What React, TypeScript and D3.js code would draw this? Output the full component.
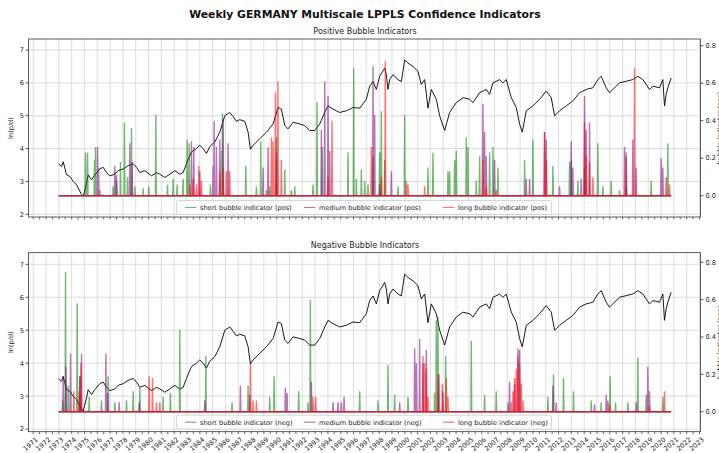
import React from 'react';
import * as d3 from 'd3';

const FONT = 'DejaVu Sans, Verdana, sans-serif';

// tick values
const yearTicks = [
  1971, 1972, 1973, 1974, 1975, 1976, 1977, 1978, 1979, 1980, 1981, 1982, 1983,
  1984, 1985, 1986, 1987, 1988, 1989, 1990, 1991, 1992, 1993, 1994, 1995, 1996,
  1997, 1998, 1999, 2000, 2001, 2002, 2003, 2004, 2005, 2006, 2007, 2008, 2009,
  2010, 2011, 2012, 2013, 2014, 2015, 2016, 2017, 2018, 2019, 2020, 2021, 2022, 2023,
];
const leftTicks = [2, 3, 4, 5, 6, 7];
const rightTicks = [0, 0.2, 0.4, 0.6, 0.8];

// ln(p/d)
const price: [number, number][] = [
  [1972.98, 3.54], [1973.21, 3.45], [1973.34, 3.6], [1973.6, 3.2], [1973.86, 3.15],
  [1974.12, 3.0], [1974.38, 2.9], [1974.77, 2.6], [1974.9, 2.55], [1975.16, 2.95],
  [1975.29, 3.2], [1975.55, 3.05], [1975.81, 3.2], [1976.2, 3.38], [1976.46, 3.43],
  [1976.72, 3.27], [1976.98, 3.17], [1977.37, 3.22], [1977.63, 3.33], [1978.02, 3.38],
  [1978.41, 3.48], [1978.8, 3.54], [1979.06, 3.43], [1979.32, 3.27], [1979.71, 3.33],
  [1980.23, 3.17], [1980.62, 3.27], [1980.88, 3.22], [1981.27, 3.12], [1981.66, 3.22],
  [1982.05, 3.33], [1982.44, 3.22], [1982.7, 3.27], [1982.96, 3.54], [1983.35, 3.9],
  [1983.74, 4.0], [1984.0, 4.1], [1984.26, 4.0], [1984.52, 3.85], [1984.78, 4.06],
  [1985.17, 4.2], [1985.56, 4.5], [1985.95, 5.0], [1986.34, 5.1], [1986.6, 4.97],
  [1986.86, 4.83], [1987.12, 4.88], [1987.51, 4.83], [1987.77, 4.5], [1987.95, 3.98],
  [1988.16, 4.1], [1988.68, 4.3], [1989.2, 4.5], [1989.72, 4.75], [1990.11, 5.25],
  [1990.37, 5.2], [1990.63, 4.7], [1990.89, 4.6], [1991.28, 4.8], [1991.8, 4.75],
  [1992.19, 4.7], [1992.58, 4.55], [1992.97, 4.55], [1993.36, 4.75], [1993.75, 5.1],
  [1994.01, 5.3], [1994.4, 5.2], [1994.92, 5.1], [1995.44, 5.15], [1995.96, 5.25],
  [1996.48, 5.23], [1997.0, 5.5], [1997.26, 5.9], [1997.52, 6.04], [1997.78, 5.8],
  [1998.04, 6.2], [1998.43, 6.45], [1998.56, 6.25], [1998.69, 5.8], [1998.82, 6.1],
  [1999.08, 6.25], [1999.47, 6.1], [1999.73, 6.04], [1999.99, 6.7], [2000.25, 6.6],
  [2000.64, 6.5], [2001.03, 6.35], [2001.29, 5.95], [2001.55, 6.1], [2001.81, 5.23],
  [2002.07, 5.8], [2002.46, 5.5], [2002.72, 5.0], [2003.11, 4.55], [2003.5, 5.1],
  [2004.02, 5.4], [2004.54, 5.55], [2005.06, 5.5], [2005.32, 5.4], [2005.84, 5.7],
  [2006.36, 5.8], [2006.62, 5.65], [2006.88, 6.0], [2007.4, 6.1], [2007.66, 6.0],
  [2007.92, 6.1], [2008.31, 5.55], [2008.7, 5.25], [2008.96, 4.75], [2009.17, 4.5],
  [2009.48, 5.15], [2010.0, 5.3], [2010.52, 5.5], [2011.04, 5.75], [2011.43, 5.55],
  [2011.69, 5.0], [2012.08, 5.15], [2012.6, 5.3], [2013.12, 5.45], [2013.64, 5.7],
  [2014.16, 5.8], [2014.68, 5.85], [2015.07, 6.1], [2015.33, 6.2], [2015.72, 5.85],
  [2015.98, 5.7], [2016.24, 5.8], [2016.76, 6.0], [2017.28, 6.05], [2017.8, 6.1],
  [2018.19, 6.2], [2018.58, 6.1], [2019.1, 5.8], [2019.36, 5.9], [2019.88, 5.85],
  [2020.14, 6.1], [2020.27, 5.3], [2020.4, 5.65], [2020.53, 5.85], [2020.79, 6.15],
];

// positive bubble indicators [year, value]
const shortPos: [number, number][] = [
  [1975.08, 0.23], [1975.24, 0.23], [1975.78, 0.19], [1975.86, 0.26], [1977.24, 0.05],
  [1977.5, 0.08], [1977.81, 0.18], [1978.12, 0.39], [1978.36, 0.1], [1978.67, 0.36],
  [1978.93, 0.05], [1979.58, 0.04], [1980.02, 0.05], [1980.57, 0.43], [1981.48, 0.06],
  [1981.92, 0.09], [1982.23, 0.06], [1982.7, 0.09], [1983.01, 0.3], [1983.17, 0.28],
  [1984.83, 0.06], [1985.69, 0.24], [1985.77, 0.44], [1987.59, 0.16], [1988.42, 0.05],
  [1988.76, 0.29], [1989.2, 0.03], [1989.46, 0.05], [1989.98, 0.31], [1990.63, 0.14],
  [1991.15, 0.03], [1991.41, 0.05], [1992.84, 0.06], [1993.15, 0.5], [1993.57, 0.26],
  [1995.57, 0.23], [1996.01, 0.68], [1996.22, 0.09], [1996.61, 0.14], [1996.87, 0.08],
  [1997.13, 0.06], [1997.52, 0.21], [1998.04, 0.23], [1998.17, 0.45], [1998.43, 0.19],
  [1999.47, 0.05], [1999.99, 0.43], [2001.81, 0.15], [2002.2, 0.23], [2003.37, 0.13],
  [2003.5, 0.13], [2003.89, 0.19], [2004.02, 0.24], [2004.8, 0.31], [2004.93, 0.26],
  [2005.58, 0.08], [2005.84, 0.21], [2006.62, 0.23], [2006.88, 0.26], [2007.27, 0.15],
  [2009.35, 0.19], [2010.0, 0.3], [2011.56, 0.16], [2012.86, 0.18], [2012.99, 0.19],
  [2013.51, 0.08], [2014.03, 0.15], [2015.07, 0.28], [2015.46, 0.05], [2016.11, 0.08],
  [2016.76, 0.03], [2017.28, 0.05], [2019.23, 0.08], [2020.53, 0.28],
];
const mediumPos: [number, number][] = [
  [1976.02, 0.26], [1976.1, 0.15], [1977.37, 0.16], [1977.5, 0.11], [1978.54, 0.28],
  [1978.72, 0.18], [1983.35, 0.29], [1983.53, 0.26], [1984.0, 0.13], [1985.04, 0.16],
  [1985.12, 0.4], [1985.3, 0.26], [1985.56, 0.3], [1985.82, 0.41], [1986.21, 0.28],
  [1988.94, 0.15], [1989.33, 0.26], [1989.98, 0.23], [1993.49, 0.35], [1993.75, 0.61],
  [1994.01, 0.53], [1994.14, 0.24], [1997.52, 0.69], [1997.65, 0.43], [1998.04, 0.06],
  [1998.95, 0.13], [2006.1, 0.49], [2006.23, 0.34], [2006.36, 0.21], [2007.01, 0.19],
  [2009.48, 0.09], [2009.74, 0.09], [2010.91, 0.34], [2011.04, 0.3], [2012.08, 0.05],
  [2012.99, 0.29], [2013.12, 0.15], [2013.77, 0.09], [2014.03, 0.53], [2014.16, 0.35],
  [2014.42, 0.39], [2017.15, 0.26], [2017.28, 0.23], [2017.8, 0.3], [2018.06, 0.15],
  [2020.01, 0.2], [2020.14, 0.15],
];
const longPos: [number, number][] = [
  [1976.2, 0.03], [1983.22, 0.06], [1983.48, 0.09], [1983.74, 0.06], [1983.92, 0.16],
  [1984.13, 0.08], [1985.56, 0.13], [1985.82, 0.15], [1986.08, 0.13], [1986.34, 0.13],
  [1989.59, 0.31], [1989.72, 0.29], [1989.9, 0.55], [1990.1, 0.61], [1990.37, 0.19],
  [1994.01, 0.1], [1994.32, 0.4], [1997.39, 0.26], [1998.17, 0.1], [1998.48, 0.72],
  [2000.12, 0.08], [2000.25, 0.06], [2001.55, 0.05], [2006.1, 0.19], [2006.36, 0.05],
  [2007.14, 0.03], [2010.91, 0.34], [2011.04, 0.19], [2014.03, 0.39], [2014.16, 0.21],
  [2014.42, 0.18], [2014.68, 0.1], [2017.28, 0.21], [2017.93, 0.68], [2020.4, 0.1],
  [2020.66, 0.06],
];

// negative bubble indicators [year, value]
const shortNeg: [number, number][] = [
  [1973.29, 0.06], [1973.52, 0.75], [1973.73, 0.14], [1974.43, 0.58], [1974.64, 0.19],
  [1975.37, 0.08], [1976.33, 0.06], [1976.85, 0.19], [1977.37, 0.05], [1978.28, 0.06],
  [1978.8, 0.11], [1979.32, 0.13], [1981.14, 0.08], [1981.71, 0.1], [1982.44, 0.44],
  [1984.47, 0.3], [1986.52, 0.05], [1987.77, 0.14], [1989.46, 0.08], [1989.8, 0.19],
  [1991.72, 0.11], [1992.45, 0.05], [1992.63, 0.6], [1996.48, 0.11], [1997.91, 0.06],
  [1998.69, 0.25], [1999.21, 0.09], [2000.25, 0.08], [2002.33, 0.1], [2002.46, 0.49],
  [2002.59, 0.51], [2003.19, 0.3], [2005.19, 0.38], [2006.23, 0.09], [2007.14, 0.11],
  [2008.05, 0.05], [2011.17, 0.08], [2011.61, 0.2], [2012.39, 0.18], [2013.17, 0.11],
  [2014.55, 0.06], [2015.33, 0.05], [2016.03, 0.19], [2016.45, 0.05], [2017.41, 0.05],
  [2018.19, 0.29], [2018.84, 0.09], [2020.14, 0.08],
];
const mediumNeg: [number, number][] = [
  [1973.34, 0.19], [1973.55, 0.24], [1973.91, 0.31], [1974.64, 0.19], [1974.77, 0.31],
  [1976.67, 0.31], [1976.8, 0.1], [1977.71, 0.05], [1979.27, 0.05], [1984.39, 0.06],
  [1987.17, 0.14], [1987.9, 0.09], [1990.68, 0.13], [1990.81, 0.1], [1992.71, 0.16],
  [1994.4, 0.05], [1994.79, 0.05], [1995.05, 0.05], [1995.26, 0.08], [1999.6, 0.05],
  [2000.77, 0.34], [2000.9, 0.26], [2001.16, 0.39], [2001.42, 0.26], [2001.68, 0.33],
  [2002.67, 0.2], [2002.98, 0.11], [2008.18, 0.16], [2008.57, 0.15], [2008.83, 0.34],
  [2008.96, 0.33], [2011.56, 0.14], [2011.82, 0.05], [2014.81, 0.04], [2015.72, 0.09],
  [2015.85, 0.06], [2018.06, 0.05], [2018.97, 0.24], [2019.1, 0.11],
];
const longNeg: [number, number][] = [
  [1974.17, 0.11], [1974.59, 0.11], [1974.72, 0.26], [1980.05, 0.19], [1980.31, 0.18],
  [1980.62, 0.05], [1980.88, 0.05], [1987.95, 0.26], [1988.16, 0.06], [1988.42, 0.06],
  [1992.84, 0.08], [1993.05, 0.08], [2001.42, 0.3], [2001.55, 0.26], [2001.68, 0.23],
  [2001.81, 0.08], [2002.59, 0.2], [2002.93, 0.15], [2003.24, 0.18], [2003.37, 0.08],
  [2008.31, 0.05], [2008.44, 0.11], [2008.57, 0.18], [2008.7, 0.23], [2008.83, 0.3],
  [2008.96, 0.26], [2009.09, 0.15], [2009.22, 0.06], [2015.98, 0.04], [2019.1, 0.03],
  [2020.27, 0.11],
];

const GREEN = '#008000';
const PURPLE = '#800080';
const RED = '#ff0000';

const L = 28.5;
const R = 700.5;
const x = d3.scaleLinear().domain([1970.63, 2023.08]).range([L, R]);

const t0 = price[0][0];
const t1 = price[price.length - 1][0];

// indicator drawn as a line that sits on 0 and jumps up at each spike
function spikePath(spikes: [number, number][], yR: d3.ScaleLinear<number, number>) {
  const pts: [number, number][] = [[t0, 0]];
  spikes.forEach(([t, v]) => {
    pts.push([t - 0.035, 0], [t, v], [t + 0.035, 0]);
  });
  pts.push([t1, 0]);
  return d3.line<[number, number]>().x(d => x(d[0])).y(d => yR(d[1]))(pts) || '';
}

type PanelProps = {
  top: number;
  bottom: number;
  leftDomain: [number, number];
  rightDomain: [number, number];
  title: string;
  tag: string;
  series: [number, number][][];
  showYears: boolean;
};

function Panel({ top, bottom, leftDomain, rightDomain, title, tag, series, showYears }: PanelProps) {
  const yL = d3.scaleLinear().domain(leftDomain).range([bottom, top]);
  const yR = d3.scaleLinear().domain(rightDomain).range([bottom, top]);
  const priceLine = d3.line<[number, number]>().x(d => x(d[0])).y(d => yL(d[1]));
  const colors = [GREEN, PURPLE, RED];
  const names = ['short', 'medium', 'long'];
  const legX = [185, 304, 443];
  const legY = bottom - 9.5;
  const minorTicks = d3.range(1970.5, 2023.5, 0.5).filter(t => x(t) >= L && x(t) <= R);
  const midY = (top + bottom) / 2;

  return (
    <g>
      <text x={365} y={top - 5} textAnchor="middle" fontSize={8} fill="#222">{title}</text>
      {/* grid */}
      {yearTicks.map(t => (
        <line key={'gx' + t} x1={x(t)} x2={x(t)} y1={top} y2={bottom} stroke="#d4d4d4" strokeWidth={0.8} />
      ))}
      {leftTicks.map(t => (
        <line key={'gy' + t} x1={L} x2={R} y1={yL(t)} y2={yL(t)} stroke="#d4d4d4" strokeWidth={0.8} />
      ))}
      {/* price */}
      <path d={priceLine(price) || ''} fill="none" stroke="#000" strokeWidth={0.9} />
      {/* indicators */}
      {series.map((s, i) => (
        <path key={'s' + i} d={spikePath(s, yR)} fill="none" stroke={colors[i]}
          strokeOpacity={0.55} strokeWidth={1.4} strokeLinejoin="miter" />
      ))}
      {/* legend */}
      <rect x={176.5} y={legY - 7} width={375} height={14} rx={2} fill="#fff" fillOpacity={0.8}
        stroke="#cccccc" strokeWidth={0.8} />
      {names.map((n, i) => (
        <g key={'lg' + n}>
          <line x1={legX[i]} x2={legX[i] + 11.5} y1={legY} y2={legY} stroke={colors[i]} strokeOpacity={0.55} strokeWidth={1.2} />
          <text x={legX[i] + 15} y={legY + 2.3} fontSize={6.6} fill="#222">{`${n} bubble indicator (${tag})`}</text>
        </g>
      ))}
      {/* spines */}
      <rect x={L} y={top} width={R - L} height={bottom - top} fill="none" stroke="#333" strokeWidth={0.8} />
      {/* left axis */}
      {leftTicks.map(t => (
        <g key={'lt' + t}>
          <line x1={L - 3} x2={L} y1={yL(t)} y2={yL(t)} stroke="#333" strokeWidth={0.8} />
          <text x={L - 4.5} y={yL(t) + 2.3} textAnchor="end" fontSize={6.6} fill="#222">{t}</text>
        </g>
      ))}
      <text transform={`translate(13,${midY}) rotate(-90)`} textAnchor="middle" fontSize={6.6} fill="#222">ln(p/d)</text>
      {/* right axis */}
      {rightTicks.map(t => (
        <g key={'rt' + t}>
          <line x1={R} x2={R + 3} y1={yR(t)} y2={yR(t)} stroke="#333" strokeWidth={0.8} />
          <text x={R + 5} y={yR(t) + 2.3} fontSize={6.6} fill="#222">{t.toFixed(1)}</text>
        </g>
      ))}
      <text transform={`translate(721.5,${midY}) rotate(-90)`} textAnchor="middle" fontSize={6.6} fill="#222">
        {`bubble indicator (${tag})`}
      </text>
      {/* bottom ticks */}
      {minorTicks.map(t => (
        <line key={'bt' + t} x1={x(t)} x2={x(t)} y1={bottom} y2={bottom + 2.5} stroke="#333" strokeWidth={0.7} />
      ))}
      {showYears && yearTicks.map(t => (
        <text key={'yl' + t} transform={`translate(${x(t) + 2},${bottom + 5}) rotate(-40)`}
          textAnchor="end" fontSize={6.6} fill="#222" dominantBaseline="hanging">{t}</text>
      ))}
    </g>
  );
}

export default function App() {
  return (
    <svg width={719} height={453} style={{ position: 'absolute', left: 0, top: 0, background: '#fff' }}
      fontFamily={FONT}>
      <rect x={0} y={0} width={719} height={453} fill="#fff" />
      <text x={365} y={18} textAnchor="middle" fontSize={10.8} fontWeight="bold" fill="#111">
        Weekly GERMANY Multiscale LPPLS Confidence Indicators
      </text>
      <Panel top={39} bottom={217} leftDomain={[1.918, 7.335]} rightDomain={[-0.1136, 0.8357]}
        title="Positive Bubble Indicators" tag="pos" series={[shortPos, mediumPos, longPos]} showYears={false} />
      <Panel top={252.7} bottom={431.7} leftDomain={[1.924, 7.352]} rightDomain={[-0.1071, 0.8514]}
        title="Negative Bubble Indicators" tag="neg" series={[shortNeg, mediumNeg, longNeg]} showYears={true} />
    </svg>
  );
}
